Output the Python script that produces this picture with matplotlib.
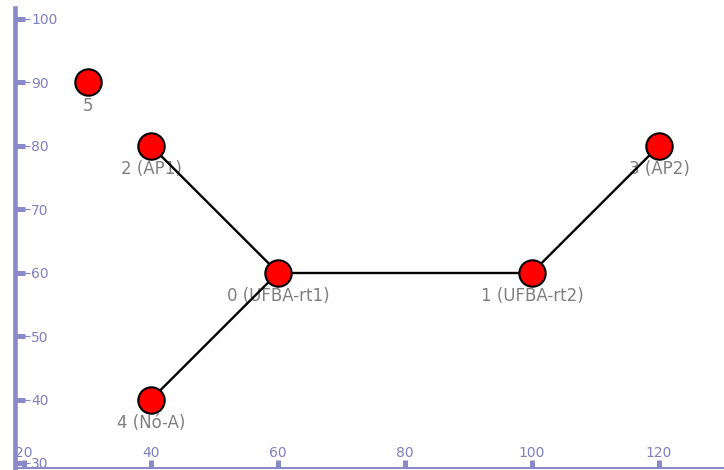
import matplotlib
matplotlib.use("Agg")
import matplotlib.pyplot as plt

# node positions and labels
node_ids = [0, 1, 2, 3, 4, 5]
node_x = [60, 100, 40, 120, 40, 30]
node_y = [60, 60, 80, 80, 40, 90]
node_labels = ["0 (UFBA-rt1)", "1 (UFBA-rt2)", "2 (AP1)", "3 (AP2)", "4 (Nó-A)", "5"]

# links between nodes
edges = [(0, 2), (0, 4), (0, 1), (1, 3)]

x_ticks = [20, 40, 60, 80, 100, 120]
y_ticks = [30, 40, 50, 60, 70, 80, 90, 100]

axis_color = "#8a8ac8"
label_color = "#8080c0"

fig = plt.figure(figsize=(7.24, 4.70), dpi=100)
ax = fig.add_axes([15 / 724, 2 / 470, 1 - 15 / 724, 1 - 10 / 470])

for a, b in edges:
    ax.plot([node_x[a], node_x[b]], [node_y[a], node_y[b]],
            color="black", lw=1.7, zorder=2, solid_capstyle="butt")

ax.plot(node_x, node_y, linestyle="none", marker="o", markersize=19,
        markerfacecolor="#ff0000", markeredgecolor="black",
        markeredgewidth=1.5, zorder=3)

for x, y, lab in zip(node_x, node_y, node_labels):
    ax.annotate(lab, (x, y), xytext=(0, -17), textcoords="offset points",
                ha="center", va="center", fontsize=12, color="#808080",
                zorder=1)

ax.set_xlim(18.58, 130.24)
ax.set_ylim(29.21, 101.73)

for side in ["top", "right"]:
    ax.spines[side].set_visible(False)
ax.spines["left"].set_color(axis_color)
ax.spines["left"].set_linewidth(3.3)
ax.spines["bottom"].set_color(axis_color)
ax.spines["bottom"].set_linewidth(1.5)

ax.set_xticks(x_ticks)
ax.set_yticks(y_ticks)
ax.set_yticks(y_ticks, minor=True)
ax.yaxis.remove_overlapping_locs = False

ax.tick_params(axis="x", which="major", direction="in", length=6, width=3.6,
               color=axis_color, labelcolor=label_color, labelsize=10,
               pad=-16)
ax.tick_params(axis="y", which="major", direction="in", length=7, width=3.6,
               color=axis_color, labelcolor=label_color, labelsize=10,
               pad=-11.5)
ax.tick_params(axis="y", which="minor", direction="in", length=11, width=0.9,
               color=axis_color)
plt.setp(ax.get_yticklabels(), ha="left")

fig.savefig("out.png", dpi=100)
